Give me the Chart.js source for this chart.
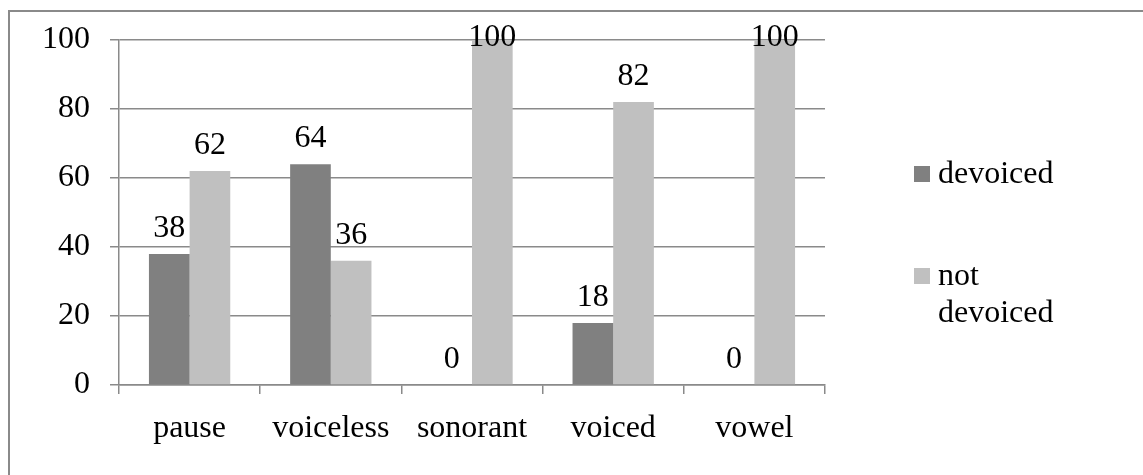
<!DOCTYPE html>
<html>
<head>
<meta charset="utf-8">
<script src="https://cdn.jsdelivr.net/npm/chart.js@4.4.0/dist/chart.umd.min.js"></script>
<style>
  html, body { margin: 0; padding: 0; background: #fff; overflow: hidden; }
  #wrap { position: relative; width: 1143px; height: 475px; }
  #frame { position: absolute; left: 8px; top: 10px; width: 1200px; height: 600px;
           border-left: 2px solid #8a8a8a; border-top: 2px solid #8a8a8a; box-sizing: border-box; }
  canvas { position: absolute; left: 0; top: 0; }
  .leg { position: absolute; font-family: "Liberation Serif", "Times New Roman", serif;
         font-size: 32px; line-height: 37px; color: #000; }
  .sw { position: absolute; width: 16px; height: 16px; }
  .lt { position: absolute; left: 24px; top: 0; width: 128px; }
</style>
</head>
<body>
<div id="wrap">
  <div id="frame"></div>
  <canvas id="c" width="1143" height="475"></canvas>
  <div id="legend"></div>
</div>
<script>
const categories = ["pause", "voiceless", "sonorant", "voiced", "vowel"];
const devoiced = [38, 64, 0, 18, 0];
const notDevoiced = [62, 36, 100, 82, 100];
const yTicks = [0, 20, 40, 60, 80, 100];
const seriesLabels = ["devoiced", "not devoiced"];
const seriesColors = ["#808080", "#C0C0C0"];

const FONT = '"Liberation Serif", "Times New Roman", serif';
const gridColor = "#8a8a8a";

const labelPlugin = {
  id: "barLabels",
  afterDatasetsDraw(chart) {
    const ctx = chart.ctx;
    ctx.save();
    ctx.font = "32px " + FONT;
    ctx.fillStyle = "#000";
    ctx.textAlign = "center";
    ctx.textBaseline = "alphabetic";
    chart.data.datasets.forEach((ds, i) => {
      const meta = chart.getDatasetMeta(i);
      meta.data.forEach((bar, j) => {
        const y = Math.max(bar.y - 17, chart.chartArea.top + 6);
        ctx.fillText(String(ds.data[j]), bar.x, y);
      });
    });
    ctx.restore();
  }
};

const chart = new Chart(document.getElementById("c"), {
  type: "bar",
  data: {
    labels: categories,
    datasets: [
      { label: seriesLabels[0], data: devoiced, backgroundColor: seriesColors[0] },
      { label: seriesLabels[1], data: notDevoiced, backgroundColor: seriesColors[1] }
    ]
  },
  options: {
    responsive: false,
    animation: false,
    devicePixelRatio: 1,
    layout: { padding: { left: 0, top: 40, right: 318, bottom: 0 } },
    datasets: { bar: { categoryPercentage: 0.576, barPercentage: 1.0 } },
    plugins: { legend: { display: false }, tooltip: { enabled: false } },
    scales: {
      x: {
        grid: { drawOnChartArea: false, drawTicks: true, tickLength: 9, color: gridColor, lineWidth: 1.5 },
        border: { display: true, color: gridColor, width: 1.5 },
        ticks: { font: { family: FONT, size: 32 }, color: "#000", padding: 15, maxRotation: 0 },
        afterFit(s) { s.height = 90; }
      },
      y: {
        min: 0, max: 100,
        afterBuildTicks(s) { s.ticks = yTicks.map(v => ({ value: v })); },
        grid: { color: gridColor, lineWidth: 1.5, tickLength: 9 },
        border: { display: true, color: gridColor, width: 1.5 },
        ticks: { font: { family: FONT, size: 32 }, color: "#000", padding: 20 },
        afterFit(s) { s.width = 119; }
      }
    }
  },
  plugins: [labelPlugin]
});

// HTML legend built from series
const legend = document.getElementById("legend");
const legendTops = [154, 256];
seriesLabels.forEach((lab, i) => {
  const d = document.createElement("div");
  d.className = "leg";
  d.style.left = "914px";
  d.style.top = legendTops[i] + "px";
  const sw = document.createElement("div");
  sw.className = "sw";
  sw.style.background = seriesColors[i];
  sw.style.top = "12px";
  sw.style.left = "0px";
  const t = document.createElement("div");
  t.className = "lt";
  t.textContent = lab;
  d.appendChild(sw);
  d.appendChild(t);
  legend.appendChild(d);
});
</script>
</body>
</html>
